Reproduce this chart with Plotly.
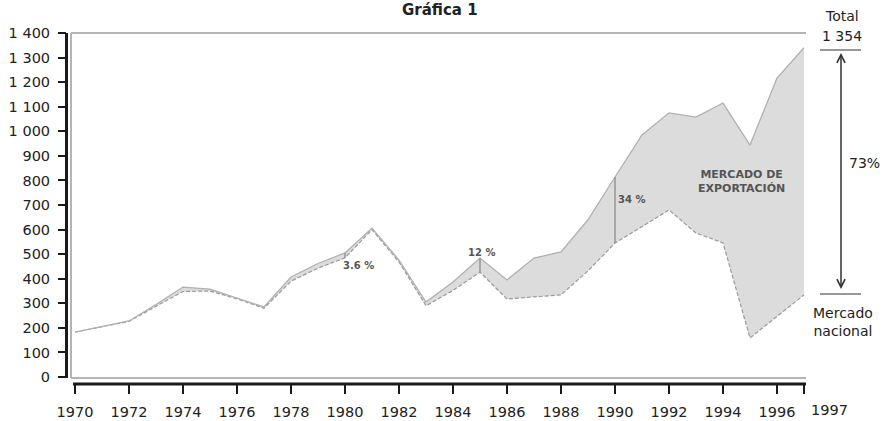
import plotly.graph_objects as go

years = list(range(1970, 1998))
total = [183, 205, 228, 295, 366, 358, 322, 285, 407, 462, 505, 606, 476, 305, 387, 484,
         395, 484, 509, 640, 814, 985, 1075, 1058, 1115, 944, 1217, 1340]
nacional = [183, 203, 226, 288, 348, 350, 318, 280, 390, 443, 485, 600, 468, 290, 352, 427,
            317, 326, 334, 432, 545, 612, 680, 586, 546, 159, 245, 334]

marker_years = [1980, 1985, 1990]
marker_labels = ["3.6 %", "12 %", "34 %"]

xtick_vals = list(range(1970, 1997, 2)) + [1997]
xtick_text = [str(v) for v in xtick_vals[:-1]] + [""]
last_label = "1997"
ytick_vals = list(range(0, 1401, 100))
ytick_text = [(f"1 {v-1000:03d}" if v >= 1000 else str(v)) for v in ytick_vals]

W, H = 883, 421
L, R, T, B = 67, 77, 33, 37
pw, ph = W - L - R, H - T - B

def px(x):  # pixel -> paper x
    return (x - L) / pw

def py(y):  # pixel -> paper y
    return (H - B - y) / ph

fig = go.Figure()

fig.add_trace(go.Scatter(x=years, y=nacional, mode="lines",
                         line=dict(color="#9a9a9a", width=1.2, dash="4px,2px"),
                         hoverinfo="skip", showlegend=False))
fig.add_trace(go.Scatter(x=years, y=total, mode="lines", fill="tonexty",
                         fillcolor="#dcdcdc",
                         line=dict(color="#b0b0b0", width=1.3),
                         hoverinfo="skip", showlegend=False))

# vertical share markers
mx, my = [], []
for yr in marker_years:
    i = years.index(yr)
    mx += [yr, yr, None]
    my += [nacional[i], total[i], None]
fig.add_trace(go.Scatter(x=mx, y=my, mode="lines", line=dict(color="#8a8a8a", width=1.3),
                         hoverinfo="skip", showlegend=False))

ann_font = dict(family="DejaVu Sans", size=10, color="#555555")
offsets = {1980: (13, -13), 1985: (1, 6), 1990: (16, -22)}
for yr, lab in zip(marker_years, marker_labels):
    i = years.index(yr)
    dx, dy = offsets[yr]
    fig.add_annotation(x=yr, y=total[i], xref="x", yref="y", text=f"<b>{lab}</b>",
                       showarrow=False, xshift=dx, yshift=dy, font=ann_font,
                       xanchor="center", yanchor="middle")

def pann(x, y, text, font, **kw):
    fig.add_annotation(x=px(x), y=py(y), xref="paper", yref="paper", text=text,
                       showarrow=False, font=font, xanchor="center", yanchor="middle", **kw)

pann(741, 181, "<b>MERCADO DE<br>EXPORTACIÓN</b>",
     dict(family="DejaVu Sans", size=11, color="#555555"), align="center")

# title
pann(440, 10, "<b>Gráfica 1</b>", dict(family="DejaVu Sans", size=15, color="#222222"))

# last x tick label, offset to the right of its tick as in the reference
fig.add_annotation(x=1997, y=py(410), xref="x", yref="paper", text=last_label, showarrow=False,
                   xshift=25, xanchor="center", yanchor="middle",
                   font=dict(family="DejaVu Sans", size=14.5, color="#222222"))

# right side annotations
rf = dict(family="DejaVu Sans", size=14, color="#222222")
pann(842, 16, "Total", rf)
pann(842, 36, "1 354", rf)
pann(864, 163, "73%", rf)
pann(843, 322, "Mercado<br>nacional", rf, align="center")
fig.add_annotation(x=px(841), y=py(53), xref="paper", yref="paper", text="", showarrow=True,
                   ax=0, ay=235, arrowhead=5, arrowsize=1.6, arrowwidth=1, arrowcolor="#333333")
fig.add_annotation(x=px(841), y=py(289), xref="paper", yref="paper", text="", showarrow=True,
                   ax=0, ay=-235, arrowhead=5, arrowsize=1.6, arrowwidth=1, arrowcolor="#333333")

shapes = [
    dict(type="line", xref="paper", yref="paper", x0=px(820), x1=px(861), y0=py(50), y1=py(50),
         line=dict(color="#333333", width=1)),
    dict(type="line", xref="paper", yref="paper", x0=px(820), x1=px(861), y0=py(294), y1=py(294),
         line=dict(color="#333333", width=1)),
    dict(type="line", xref="paper", yref="paper", x0=px(71), x1=px(806), y0=py(33), y1=py(33),
         line=dict(color="#b4b4b4", width=2)),
    dict(type="line", xref="paper", yref="paper", x0=px(71), x1=px(71), y0=py(33), y1=py(378),
         line=dict(color="#b4b4b4", width=2)),
    dict(type="line", xref="paper", yref="paper", x0=px(71), x1=px(806), y0=py(378), y1=py(378),
         line=dict(color="#b4b4b4", width=2)),
    dict(type="line", xref="paper", yref="paper", x0=px(66.5), x1=px(66.5), y0=py(33), y1=py(378),
         line=dict(color="#1a1a1a", width=3)),
    dict(type="line", xref="paper", yref="paper", x0=px(73), x1=px(806), y0=py(384), y1=py(384),
         line=dict(color="#1a1a1a", width=3)),
]

fig.update_layout(
    width=W, height=H,
    margin=dict(l=L, r=R, t=T, b=B, autoexpand=False),
    paper_bgcolor="white", plot_bgcolor="white",
    shapes=shapes,
    showlegend=False,
    font=dict(family="DejaVu Sans", size=14, color="#222222"),
)
fig.update_xaxes(range=[1970 - 8 / 27, 1970 - 8 / 27 + pw / 27], showgrid=False, zeroline=False,
                 showline=False, tickmode="array", tickvals=xtick_vals, ticktext=xtick_text,
                 tickangle=0, automargin=False, ticklabelstandoff=6,
                 ticks="outside", ticklen=9, tickwidth=2, tickcolor="#1a1a1a",
                 tickfont=dict(family="DejaVu Sans", size=14.5, color="#222222"))
fig.update_yaxes(range=[-7 / 0.2457, -7 / 0.2457 + ph / 0.2457], showgrid=False, zeroline=False,
                 showline=False, tickmode="array", tickvals=ytick_vals, ticktext=ytick_text,
                 automargin=False, ticklabelstandoff=5,
                 ticks="outside", ticklen=8, tickwidth=2, tickcolor="#1a1a1a",
                 tickfont=dict(family="DejaVu Sans", size=14.5, color="#222222"))

fig.write_html("out.html", config={"displayModeBar": False},
               post_script="document.body.style.margin='0';")
